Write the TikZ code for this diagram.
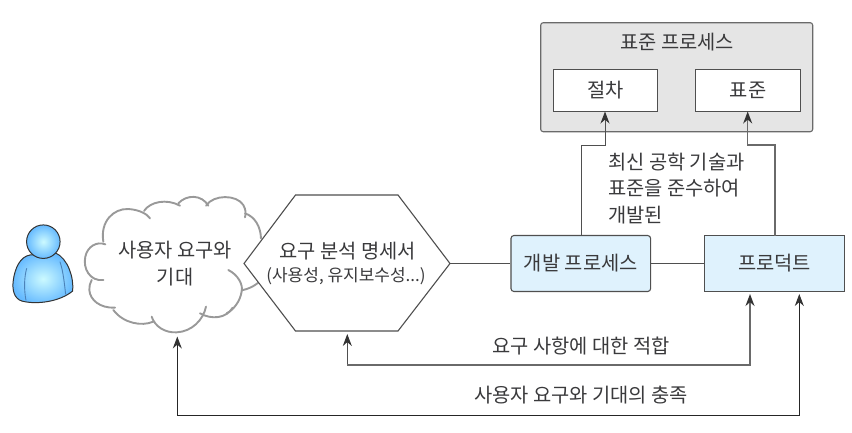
\documentclass[tikz,border=0pt]{standalone}
\usepackage{fontspec}
\setmainfont{Noto Sans CJK KR}
\usetikzlibrary{arrows.meta,calc}
\definecolor{txt}{HTML}{3A3A3C}
\definecolor{ln}{HTML}{4F4F4F}
\definecolor{lnb}{HTML}{6A6A6A}
\definecolor{pale}{HTML}{DFF2FD}
\tikzset{
  x=1pt,y=-1pt,
  lbl/.style={text=txt,font=\fontsize{19.8}{27}\selectfont,inner sep=0pt,align=center},
  whitebox/.style={draw=ln,line width=0.9pt,fill=white,inner sep=0pt},
  bluebox/.style={draw=ln,line width=0.9pt,fill=pale,inner sep=0pt},
  link/.style={draw=ln,line width=1pt},
  arrowlink/.style={link,-{Stealth[length=12pt,width=9pt,color=black!80]},line join=miter},
  heavy/.style={arrowlink,draw=lnb,line width=1.5pt},
  dark/.style={arrowlink,draw=black!85,line width=1pt},
  cloudline/.style={draw=black!40,line width=1.9pt,line cap=round},
}
\begin{document}
\begin{tikzpicture}
\useasboundingbox (0,0) rectangle (852,432);
% standard process
\node[draw=lnb,line width=1.1pt,fill=black!10,rounded corners=2.5pt,minimum width=272pt,minimum height=109pt,inner sep=0pt] (std) at (676.7,77.2) {};
\node[lbl] (stdt) at (677,42) {표준 프로세스};
\node[whitebox,minimum width=104pt,minimum height=41.3pt] (proc) at (605.3,90.3) {};
\node[lbl] at (proc) {절차};
\node[whitebox,minimum width=105.4pt,minimum height=41.3pt] (stdd) at (748,90.3) {};
\node[lbl] at (stdd) {표준};
% dev and product
\node[bluebox,rounded corners=3pt,minimum width=139.7pt,minimum height=56pt,line width=1.1pt] (dev) at (580.8,263.5) {};
\node[lbl] at (dev) {개발 프로세스};
\node[bluebox,minimum width=140pt,minimum height=56pt] (prod) at (774.5,263.5) {};
\node[lbl] at (prod) {프로덕트};
% cloud
\begin{scope}[shift={(70,185)},x=0.3333pt,y=-0.3333pt]
\fill[white] (100,170) -- (240,100) -- (330,55) -- (525,95) -- (575,150) -- (515,318) -- (405,390) -- (245,395) -- (130,375) -- (65,290) -- cycle;
\draw[cloudline] (100,285) .. controls (60,290) and (38,250) .. (46,215) .. controls (52,185) and (80,168) .. (106,178);
\draw[cloudline] (100,170) .. controls (90,110) and (130,70) .. (175,72) .. controls (205,74) and (230,85) .. (240,100);
\draw[cloudline] (222,78) .. controls (240,50) and (290,40) .. (330,62);
\draw[cloudline] (325,55) .. controls (350,28) and (395,28) .. (415,62);
\draw[cloudline] (408,62) .. controls (430,28) and (500,28) .. (520,60) .. controls (528,75) and (528,85) .. (525,97);
\draw[cloudline] (525,85) .. controls (555,95) and (572,125) .. (573,160);
\draw[cloudline] (475,255) .. controls (505,270) and (520,300) .. (515,320) .. controls (510,350) and (490,375) .. (470,385);
\draw[cloudline] (515,316) .. controls (535,312) and (550,305) .. (565,293);
\draw[cloudline] (488,368) .. controls (470,400) and (425,405) .. (390,385);
\draw[cloudline] (408,365) .. controls (400,405) and (365,440) .. (320,442) .. controls (285,444) and (255,425) .. (245,395);
\draw[cloudline] (250,410) .. controls (215,425) and (160,415) .. (130,375);
\draw[cloudline] (135,368) .. controls (90,370) and (60,345) .. (58,315) .. controls (57,305) and (60,295) .. (65,285);
\end{scope}
\node[lbl] (cld) at (175,264) {사용자 요구와\\기대};
% hexagon
\coordinate (hl) at (244,263.5);
\coordinate (htl) at (295.5,195);
\coordinate (htr) at (398,195);
\coordinate (hr) at (450,263.5);
\coordinate (hbr) at (398,331);
\coordinate (hbl) at (295.5,331);
\draw[draw=ln,line width=1.1pt,fill=white] (hl) -- (htl) -- (htr) -- (hr) -- (hbr) -- (hbl) -- cycle;
\node[lbl] (hext) at (347.5,251) {요구 분석 명세서};
\node[lbl,font=\fontsize{17}{20}\selectfont] (hexs) at (346,276) {(사용성, 유지보수성...)};
% person
\begin{scope}[shift={(0,215)},x=0.3333pt,y=-0.3333pt]
\draw[draw=black!80,line width=1pt,inner color=blue!10!cyan!20,outer color=cyan!55!blue!60!white]
 (90,120) .. controls (60,125) and (45,160) .. (40,195) .. controls (36,225) and (42,250) .. (65,258)
 .. controls (110,270) and (180,260) .. (218,228) .. controls (222,190) and (205,130) .. (165,113) -- cycle;
\draw[draw=cyan!60!blue!80!black!85,line width=0.9pt] (80,160) .. controls (72,190) and (72,225) .. (78,256);
\draw[draw=cyan!60!blue!80!black!85,line width=0.9pt] (180,140) .. controls (190,170) and (193,205) .. (197,238);
\node[circle,draw=black!80,line width=1pt,minimum size=33.5pt,inner sep=0pt,inner color=blue!10!cyan!20,outer color=cyan!55!blue!60!white] (user) at (130,80) {};
\end{scope}
% connectors
\draw[link] (hr) -- (dev.west);
\draw[link] (dev.east) -- (prod.west);
\coordinate (t1) at (605,111.5);
\coordinate (t2) at (747.7,111.5);
\coordinate (s1) at (581,235.7);
\coordinate (s2) at (775,235.7);
\coordinate (m1) at (581,145);
\coordinate (n1) at (605,145);
\coordinate (m2) at (775,145);
\coordinate (n2) at (747.7,145);
\draw[arrowlink] (s1) -- (m1) -- (n1) -- (t1);
\draw[heavy] (s2) -- (m2) -- (n2) -- (t2);
\coordinate (a1) at (347.3,334);
\coordinate (a2) at (750,294);
\coordinate (a3) at (177.3,336.5);
\coordinate (a4) at (799.3,294);
\coordinate (b1) at (347.3,365);
\coordinate (b2) at (750,365);
\coordinate (b3) at (177.3,415);
\coordinate (b4) at (799.3,415);
\draw[arrowlink] (b1) -- (a1);
\draw[heavy] (b1) -- (b2) -- (a2);
\draw[dark] (b3) -- (a3);
\draw[dark] (b3) -- (b4) -- (a4);
% labels
\node[lbl,anchor=west] at (608,162) {최신 공학 기술과};
\node[lbl,anchor=west] at (608,188.5) {표준을 준수하여};
\node[lbl,anchor=west] at (608,215) {개발된};
\node[lbl] at (581,346) {요구 사항에 대한 적합};
\node[lbl] at (581,395) {사용자 요구와 기대의 충족};
\end{tikzpicture}
\end{document}
